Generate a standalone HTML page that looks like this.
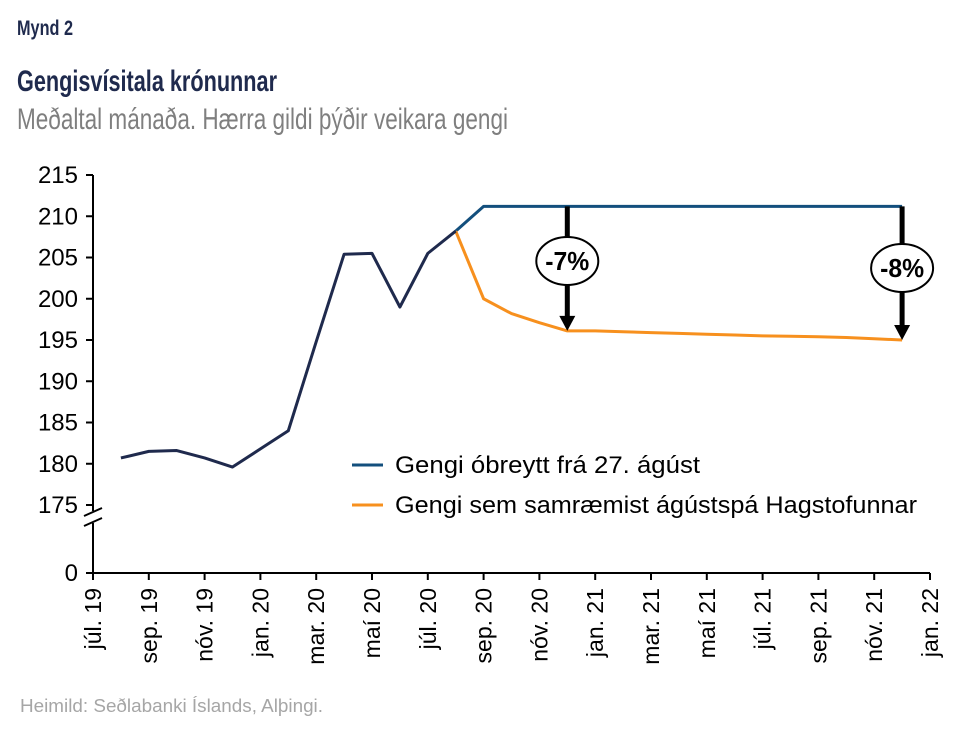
<!DOCTYPE html>
<html><head><meta charset="utf-8"><style>
html,body{margin:0;padding:0;background:#fff;}
svg{display:block;font-family:"Liberation Sans",sans-serif;}
</style></head><body>
<svg id="chart" width="964" height="740" viewBox="0 0 964 740">
<text x="17" y="35" font-size="21" font-weight="bold" fill="#1f2a4d" textLength="56" lengthAdjust="spacingAndGlyphs">Mynd 2</text>
<text x="17" y="91" font-size="30" font-weight="bold" fill="#1f2a4d" textLength="260" lengthAdjust="spacingAndGlyphs">Gengisvísitala krónunnar</text>
<text x="17" y="129" font-size="30" fill="#7f7f7f" textLength="491" lengthAdjust="spacingAndGlyphs">Meðaltal mánaða. Hærra gildi þýðir veikara gengi</text>
<text x="20" y="712" font-size="18" fill="#a6a6a6" textLength="303" lengthAdjust="spacingAndGlyphs">Heimild: Seðlabanki Íslands, Alþingi.</text>
<g id="axes"></g>
<g id="series"></g>
<g id="annot"></g>
<g id="legend"></g>
</svg>
<script>
const monthLabels = ["júl. 19","sep. 19","nóv. 19","jan. 20","mar. 20","maí 20","júl. 20","sep. 20","nóv. 20","jan. 21","mar. 21","maí 21","júl. 21","sep. 21","nóv. 21","jan. 22"];
const yTicks = [175,180,185,190,195,200,205,210,215];
const histMonths = [1,2,3,4,5,6,7,8,9,10,11,12,13];
const histValues = [180.7,181.5,181.6,180.7,179.6,181.8,184.0,194.8,205.4,205.5,199.0,205.5,208.2];
const flatMonths = [13,14,29];
const flatValues = [208.2,211.2,211.2];
const fcMonths = [13,14,15,16,17,18,19,20,21,22,23,24,25,26,27,28,29];
const fcValues = [208.2,200.0,198.2,197.1,196.1,196.1,196.0,195.9,195.8,195.7,195.6,195.5,195.45,195.4,195.3,195.15,195.0];
const annotMonths = [17,29];
const annotLabels = ["-7%","-8%"];

const NS="http://www.w3.org/2000/svg";
const X0=93, PXM=27.9;
const xs=m=>X0+m*PXM;
const ys=v=>175+(215-v)*8.25;
function mk(tag,attrs,parent){const e=document.createElementNS(NS,tag);for(const k in attrs)e.setAttribute(k,attrs[k]);parent.appendChild(e);return e;}
const axes=document.getElementById('axes');
let el=mk('line',{x1:X0,y1:175,x2:X0,y2:573,stroke:'#000','stroke-width':2},axes);


el=mk('line',{x1:X0,y1:573,x2:930,y2:573,stroke:'#000','stroke-width':2},axes);


mk('rect',{x:90,y:511,width:6,height:12,fill:'#fff'},axes);
el=mk('path',{d:'M84 516 L102 508 M84 526 L102 518',stroke:'#000','stroke-width':2,fill:'none'},axes);


yTicks.forEach(v=>{
  mk('line',{x1:X0-7,y1:ys(v),x2:X0,y2:ys(v),stroke:'#000','stroke-width':2},axes);
  const t=mk('text',{x:78,y:ys(v)+8,'font-size':24,'text-anchor':'end',fill:'#000'},axes);
  t.textContent=v;
  
  
});
mk('line',{x1:X0-7,y1:573,x2:X0,y2:573,stroke:'#000','stroke-width':2},axes);
el=mk('text',{x:78,y:581,'font-size':24,'text-anchor':'end'},axes);
el.textContent='0';


monthLabels.forEach((l,i)=>{
  const x=xs(i*2);
  mk('line',{x1:x,y1:573,x2:x,y2:580,stroke:'#000','stroke-width':2},axes);
  const t=mk('text',{x:0,y:0,'font-size':23,'text-anchor':'end',transform:`translate(${x+8},588) rotate(-90)`},axes);
  t.textContent=l;
  
  
});
const series=document.getElementById('series');
function line(ms,vs,color,name){
  const p=mk('polyline',{points:ms.map((m,i)=>xs(m)+','+ys(vs[i])).join(' '),fill:'none',stroke:color,'stroke-width':3,'stroke-linejoin':'round'},series);
  
  
}
line(flatMonths,flatValues,'#134f7d','series-unchanged-rate');
line(fcMonths,fcValues,'#f7901e','series-forecast-rate');
line(histMonths,histValues,'#1f2a4d','series-historical-rate');
const annot=document.getElementById('annot');
annotMonths.forEach((m,i)=>{
  const x=xs(m), y1=ys(flatValues[flatValues.length-1]), v2=fcValues[fcMonths.indexOf(m)], y2=ys(v2);
  const g=mk('g',{},annot);
  
  
  mk('line',{x1:x,y1:y1,x2:x,y2:y2-13,stroke:'#000','stroke-width':5},g);
  mk('polygon',{points:`${x-8},${y2-15} ${x+8},${y2-15} ${x},${y2}`,fill:'#000'},g);
  const cy=i===0?261:268;
  mk('ellipse',{cx:x,cy:cy,rx:31,ry:24,fill:'#fff',stroke:'#000','stroke-width':2},g);
  const t=mk('text',{x:x,y:cy+9,'font-size':26,'font-weight':'bold','text-anchor':'middle',textLength:44,lengthAdjust:'spacingAndGlyphs'},g);
  t.textContent=annotLabels[i];
  
  
});
const leg=document.getElementById('legend');
[['Gengi óbreytt frá 27. ágúst','#134f7d',465,305],['Gengi sem samræmist ágústspá Hagstofunnar','#f7901e',505,522]].forEach(([l,c,y,w])=>{
  const g=mk('g',{},leg);
  
  
  mk('line',{x1:352,y1:y,x2:383,y2:y,stroke:c,'stroke-width':3},g);
  const t=mk('text',{x:395,y:y+8,'font-size':24,textLength:w,lengthAdjust:'spacingAndGlyphs'},g);
  t.textContent=l;
});
</script>
</body></html>
